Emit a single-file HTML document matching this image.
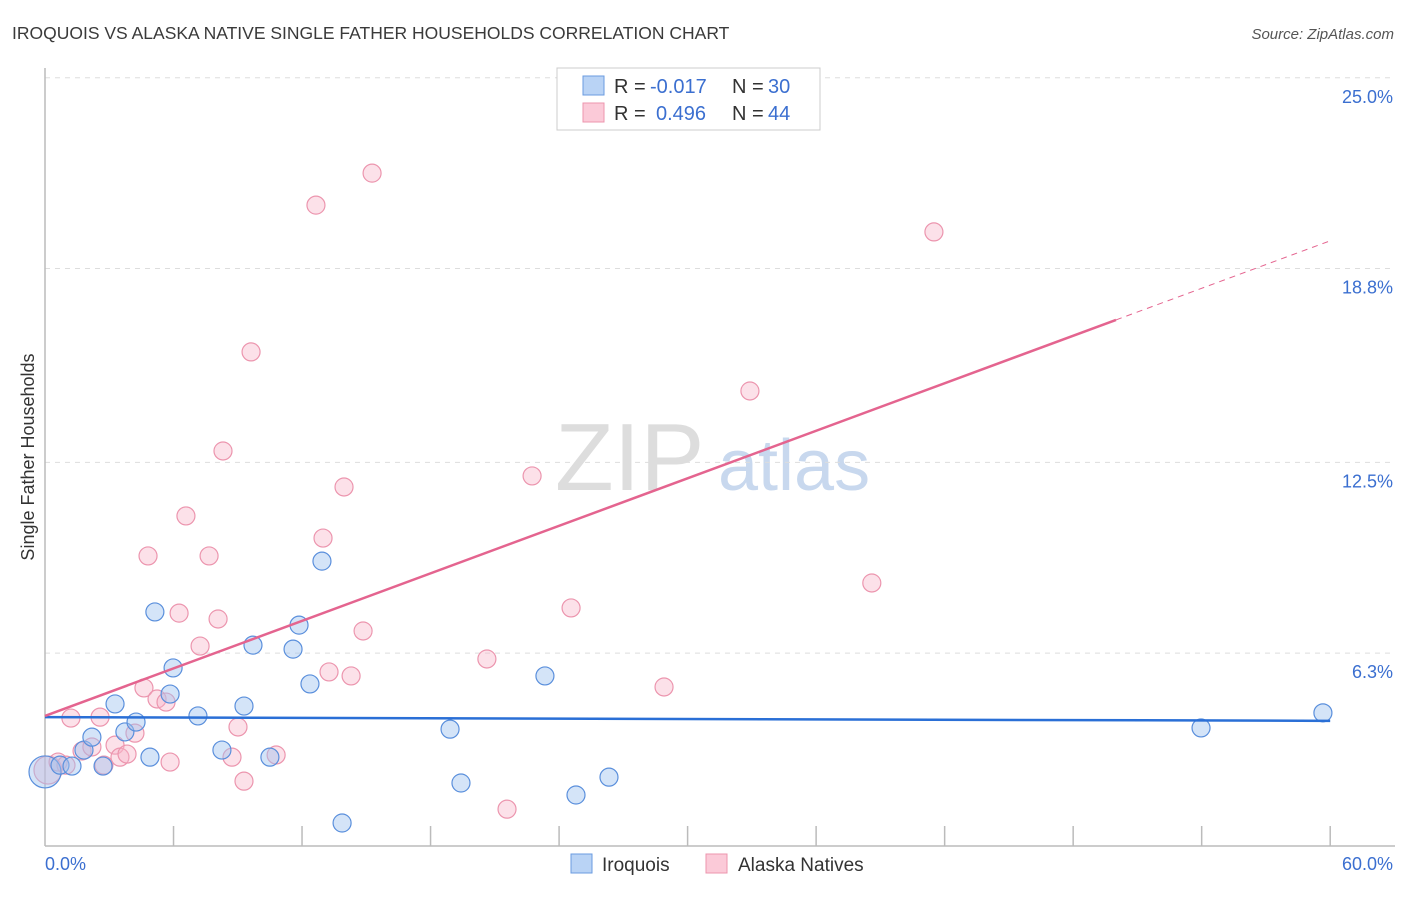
<!DOCTYPE html>
<html><head><meta charset="utf-8"><style>
body{margin:0;background:#fff;font-family:"Liberation Sans",sans-serif;}
svg text{font-family:"Liberation Sans",sans-serif;}
</style></head><body>
<svg id="chart" width="1406" height="892" xmlns="http://www.w3.org/2000/svg">
<text x="12" y="39" font-size="17.5" fill="#3a3a3a">IROQUOIS VS ALASKA NATIVE SINGLE FATHER HOUSEHOLDS CORRELATION CHART</text>
<text x="1394" y="39" font-size="15" fill="#555" text-anchor="end" font-style="italic">Source: ZipAtlas.com</text>
<text transform="translate(34,457) rotate(-90)" font-size="18" fill="#333" text-anchor="middle">Single Father Households</text>
<g><text x="555" y="490" font-size="96" fill="#ddd" font-family="Liberation Serif">ZIP</text><text x="718" y="490" font-size="72" fill="#c8d8ee">atlas</text></g>
<g id="grid"></g><g id="axes"></g><g id="marks"></g>
<g>
<rect x="557" y="68" width="263" height="62" fill="#fff" stroke="#ccc"/>
<rect x="583" y="76" width="21" height="19" fill="#b9d3f5" stroke="#6a9be0"/>
<rect x="583" y="103" width="21" height="19" fill="#fbcad8" stroke="#ec95ae"/>
<text x="614" y="93" font-size="20" fill="#333">R =</text>
<text x="650" y="93" font-size="20" fill="#3b6fd0">-0.017</text>
<text x="732" y="93" font-size="20" fill="#333">N =</text>
<text x="768" y="93" font-size="20" fill="#3b6fd0">30</text>
<text x="614" y="120" font-size="20" fill="#333">R =</text>
<text x="656" y="120" font-size="20" fill="#3b6fd0">0.496</text>
<text x="732" y="120" font-size="20" fill="#333">N =</text>
<text x="768" y="120" font-size="20" fill="#3b6fd0">44</text>
</g>
<g>
<rect x="571" y="854" width="21" height="19" fill="#b9d3f5" stroke="#6a9be0"/>
<text x="602" y="871" font-size="19" fill="#333">Iroquois</text>
<rect x="706" y="854" width="21" height="19" fill="#fbcad8" stroke="#ec95ae"/>
<text x="738" y="871" font-size="19" fill="#333">Alaska Natives</text>
</g>
</svg>
<script>
const yTicks=[25.0,18.8,12.5,6.3];
const yTickLabels=["25.0%","18.8%","12.5%","6.3%"];
const xTickLabels=["0.0%","60.0%"];
const iroqX=[0,0.7,1.26,1.82,2.19,2.71,3.27,3.73,4.25,4.9,5.13,5.84,5.98,7.14,8.26,9.29,9.71,10.5,11.58,11.86,12.37,12.93,13.87,18.91,19.42,23.34,24.79,26.33,53.97,59.66];
const iroqY=[2.44,2.66,2.63,3.15,3.57,2.63,4.65,3.74,4.06,2.92,7.64,4.97,5.82,4.26,3.15,4.58,6.56,2.92,6.43,7.21,5.3,9.29,0.78,3.83,2.08,5.56,1.69,2.27,3.87,4.36];
const akX=[0.14,0.61,0.98,1.21,1.73,2.19,2.57,2.75,3.27,3.5,3.83,4.2,4.62,4.81,5.23,5.65,5.84,6.26,6.58,7.24,7.66,8.08,8.31,8.73,9.01,9.29,9.62,10.79,12.65,13.26,13.96,14.29,12.98,14.85,15.27,20.63,21.57,22.74,24.56,28.9,32.91,38.6,41.5];
const akY=[2.5,2.76,2.66,4.19,3.12,3.25,4.22,2.66,3.31,2.92,3.02,3.7,5.17,9.46,4.81,4.71,2.76,7.6,10.76,6.53,9.46,7.41,12.87,2.92,3.9,2.14,16.09,2.99,20.86,5.69,11.7,5.56,10.04,7.02,21.9,6.11,1.23,12.06,7.77,5.2,14.82,8.58,19.99];
const iroqTrend=[4.22,4.1];
const akTrend=[4.26,17.13,19.7];
const NS="http://www.w3.org/2000/svg";
const sx=v=>45+v*21.42, sy=v=>847-v*30.77;
function mk(tag,attrs,parent){const e=document.createElementNS(NS,tag);for(const k in attrs)e.setAttribute(k,attrs[k]);parent.appendChild(e);return e;}
const grid=document.getElementById('grid'),axes=document.getElementById('axes'),marks=document.getElementById('marks');
yTicks.forEach((t,i)=>{
 const l=mk('line',{x1:45,x2:1395,y1:sy(t),y2:sy(t),stroke:'#ddd','stroke-dasharray':'5,5'},grid);
 
 
 const tx=mk('text',{x:1393,y:sy(t)+25,'font-size':18,fill:'#3b6fd0','text-anchor':'end'},axes);
 tx.textContent=yTickLabels[i];
 
 
});
let a=mk('line',{x1:45,x2:45,y1:68,y2:846,stroke:'#bbb','stroke-width':1.5},axes);


a=mk('line',{x1:45,x2:1395,y1:846,y2:846,stroke:'#bbb','stroke-width':1.5},axes);


for(let i=1;i<=10;i++){const x=sx(i*6);const t=mk('line',{x1:x,x2:x,y1:826,y2:846,stroke:'#bbb','stroke-width':1.5},axes);
 
 }
[[0,'start',45],[60,'end',1393]].forEach((d,i)=>{const t=mk('text',{x:d[2],y:870,'font-size':18,fill:'#3b6fd0','text-anchor':d[1]},axes);t.textContent=xTickLabels[i];
 
 });
akX.forEach((x,i)=>{const c=mk('circle',{cx:sx(x),cy:sy(akY[i]),r:i==0?14:9,fill:'rgba(248,180,200,0.4)',stroke:'#ec95ae','stroke-width':1.2},marks);
 
 });
iroqX.forEach((x,i)=>{const c=mk('circle',{cx:sx(x),cy:sy(iroqY[i]),r:i==0?16:9,fill:'rgba(160,196,240,0.45)',stroke:'#5a8fdc','stroke-width':1.2},marks);
 
 });
let l=mk('line',{x1:sx(0),y1:sy(iroqTrend[0]),x2:sx(60),y2:sy(iroqTrend[1]),stroke:'#2a6fd6','stroke-width':2.5},marks);


l=mk('line',{x1:sx(0),y1:sy(akTrend[0]),x2:sx(50),y2:sy(akTrend[1]),stroke:'#e4648f','stroke-width':2.5},marks);


l=mk('line',{x1:sx(50),y1:sy(akTrend[1]),x2:sx(60),y2:sy(akTrend[2]),stroke:'#e4648f','stroke-width':1,'stroke-dasharray':'6,5'},marks);


</script>
</body></html>
